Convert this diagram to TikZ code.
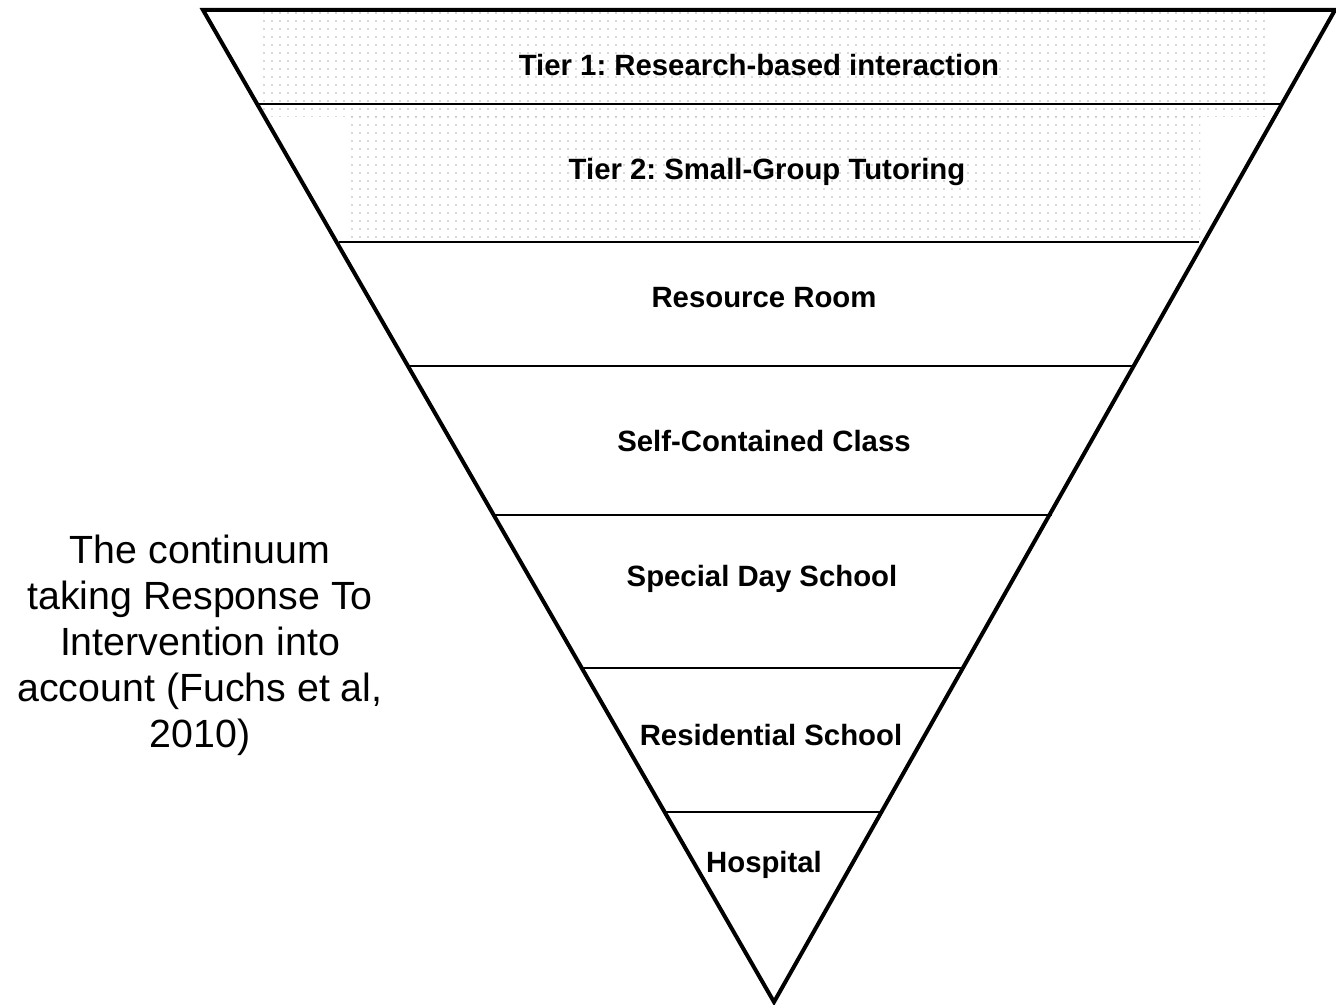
\documentclass[tikz,border=0pt]{standalone}
\usepackage{fontspec}
\setmainfont{Liberation Sans}
\usetikzlibrary{patterns.meta}
\frenchspacing

\tikzset{every picture/.style={line width=0.75pt}}
\tikzset{
  tierline/.style={line width=1.2pt},
  tierlabel/.style={anchor=base, inner sep=0pt, font=\fontsize{22}{26}\selectfont\bfseries},
  dotfill/.style={pattern={Dots[distance=6pt, radius=0.6pt]}, pattern color=black!30}
}

\begin{document}
\begin{tikzpicture}[x=0.75pt,y=0.75pt,yscale=-1,xscale=1]
	\useasboundingbox (0,0) rectangle (1336,1005);
	
	%Shape: Rectangle, dotted fill of tier 1
	\path [dotfill] (262,12) rectangle (1265,117);
	%Shape: Rectangle, dotted fill of tier 2
	\path [dotfill] (345,117) rectangle (1200,238);
	
	%Straight Lines
	\draw [tierline] (258,104) -- (1281,104);
	%Straight Lines
	\draw [tierline] (339,242) -- (1199,242);
	%Straight Lines
	\draw [tierline] (408,366) -- (1133,366);
	%Straight Lines
	\draw [tierline] (494,515) -- (1052,515);
	%Straight Lines
	\draw [tierline] (583,668) -- (964,668);
	%Straight Lines
	\draw [tierline] (665,812) -- (881,812);
	
	%Shape: Triangle (inverted)
	\draw [line width=3pt, line join=miter] (203,10) -- (1335,10) -- (774,1002) -- cycle;
	
	% Text Node
	\node [tierlabel] (tierone) at (759,76) {Tier 1: Research-based interaction};
	% Text Node
	\node [tierlabel] (tiertwo) at (767,180) {Tier 2: Small-Group Tutoring};
	% Text Node
	\node [tierlabel] (resroom) at (764,308) {Resource Room};
	% Text Node
	\node [tierlabel] (selfclass) at (764,452) {Self-Contained Class};
	% Text Node
	\node [tierlabel] (dayschool) at (762,586) {Special Day School};
	% Text Node
	\node [tierlabel] (residschool) at (771,745) {Residential School};
	% Text Node
	\node [tierlabel] (hospital) at (764,872) {Hospital};
	
	% Text Node
	\node [align=center, inner sep=0pt, font=\fontsize{29.5}{34.5}\selectfont] (caption) at (200,645) {The continuum\\taking Response To\\Intervention into\\account (Fuchs et al,\\2010)};
	
\end{tikzpicture}
\end{document}
